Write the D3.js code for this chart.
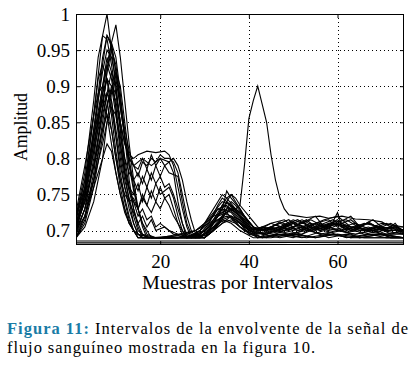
<!DOCTYPE html>
<html>
<head>
<meta charset="utf-8">
<script src="https://cdn.jsdelivr.net/npm/d3@7"></script>
<style>
  body { margin: 0; background: #fff; }
</style>
</head>
<body>
<script>
// axis ticks
const xTicks = [20, 40, 60];
const yTicks = [0.7, 0.75, 0.8, 0.85, 0.9, 0.95, 1];
const yTickLabels = ["0.7", "0.75", "0.8", "0.85", "0.9", "0.95", "1"];

// envelope intervals: [sample, amplitude]
const peakSeries = [
  [[1,0.70],[3,0.76],[5,0.86],[7,0.97],[8,1.0],[9,0.95],[10,0.90],[11,0.84],[12,0.78],[13,0.74],[14,0.71],[15,0.695],[18,0.69],[22,0.692],[26,0.69],[29,0.70],[31,0.715],[33,0.73],[35,0.735],[37,0.72],[39,0.705],[42,0.70],[45,0.705],[48,0.70],[51,0.708],[54,0.70],[58,0.705],[62,0.698],[66,0.70],[70,0.695],[75,0.695]],
  [[1,0.71],[3,0.74],[5,0.79],[7,0.87],[8,0.92],[9,0.96],[10,0.985],[11,0.94],[12,0.88],[13,0.82],[14,0.77],[15,0.73],[16,0.705],[17,0.69],[21,0.69],[25,0.695],[28,0.70],[30,0.71],[32,0.725],[34,0.74],[36,0.735],[38,0.72],[40,0.70],[44,0.695],[48,0.70],[52,0.695],[56,0.71],[60,0.70],[64,0.695],[68,0.70],[72,0.69],[75,0.69]],
  [[1,0.72],[3,0.78],[5,0.88],[6,0.94],[7,0.97],[8,0.965],[9,0.93],[10,0.89],[11,0.85],[12,0.82],[13,0.805],[14,0.80],[15,0.805],[17,0.81],[19,0.808],[21,0.81],[22,0.805],[23,0.79],[24,0.76],[25,0.73],[26,0.705],[27,0.69],[30,0.69],[32,0.70],[34,0.715],[36,0.72],[38,0.71],[40,0.70],[43,0.705],[46,0.70],[50,0.71],[53,0.705],[57,0.715],[60,0.72],[63,0.705],[67,0.70],[71,0.71],[75,0.70]],
  [[1,0.70],[3,0.75],[5,0.83],[7,0.93],[8,0.97],[9,0.96],[10,0.92],[11,0.87],[12,0.83],[13,0.80],[14,0.79],[16,0.80],[18,0.79],[20,0.80],[22,0.795],[23,0.78],[24,0.74],[25,0.71],[26,0.69],[29,0.69],[31,0.705],[33,0.725],[35,0.745],[36,0.75],[37,0.74],[39,0.72],[41,0.705],[44,0.70],[47,0.712],[50,0.705],[54,0.715],[57,0.705],[61,0.71],[65,0.70],[69,0.705],[72,0.695],[75,0.70]],
  [[1,0.69],[3,0.72],[5,0.78],[7,0.87],[8,0.92],[9,0.95],[10,0.93],[11,0.88],[12,0.83],[13,0.79],[14,0.77],[15,0.78],[16,0.765],[17,0.785],[18,0.77],[19,0.79],[20,0.775],[21,0.79],[22,0.78],[24,0.775],[25,0.74],[26,0.71],[27,0.695],[30,0.69],[32,0.71],[34,0.73],[35,0.755],[36,0.745],[38,0.73],[40,0.71],[42,0.70],[45,0.71],[48,0.715],[51,0.70],[55,0.71],[58,0.70],[60,0.725],[61,0.705],[64,0.71],[68,0.70],[72,0.705],[75,0.695]],
  [[1,0.705],[3,0.74],[5,0.81],[7,0.90],[8,0.94],[9,0.92],[10,0.87],[11,0.82],[12,0.78],[13,0.76],[14,0.75],[15,0.765],[16,0.74],[17,0.76],[18,0.745],[19,0.765],[20,0.75],[22,0.76],[23,0.745],[24,0.72],[25,0.70],[26,0.69],[29,0.695],[31,0.71],[33,0.735],[34,0.745],[35,0.74],[37,0.725],[39,0.71],[42,0.69],[46,0.70],[50,0.712],[54,0.70],[58,0.71],[62,0.715],[66,0.70],[70,0.71],[75,0.705]],
  [[1,0.715],[3,0.77],[5,0.86],[6,0.91],[7,0.93],[8,0.91],[9,0.86],[10,0.81],[11,0.77],[12,0.74],[13,0.715],[14,0.70],[15,0.69],[20,0.69],[24,0.695],[28,0.70],[30,0.71],[32,0.72],[34,0.725],[36,0.72],[38,0.705],[41,0.695],[45,0.70],[49,0.695],[53,0.70],[57,0.695],[61,0.70],[65,0.69],[70,0.695],[75,0.69]],
  [[1,0.695],[3,0.72],[5,0.77],[7,0.85],[8,0.89],[9,0.92],[10,0.90],[11,0.85],[12,0.80],[13,0.76],[14,0.74],[15,0.73],[16,0.745],[18,0.725],[19,0.74],[20,0.73],[21,0.745],[22,0.735],[23,0.72],[25,0.70],[26,0.69],[29,0.69],[31,0.70],[33,0.72],[34,0.735],[36,0.73],[38,0.715],[40,0.70],[43,0.705],[47,0.70],[50,0.71],[53,0.70],[56,0.705],[60,0.70],[64,0.705],[68,0.70],[72,0.705],[75,0.70]],
  [[1,0.70],[3,0.745],[5,0.82],[7,0.89],[8,0.91],[9,0.88],[10,0.83],[11,0.78],[12,0.745],[13,0.72],[14,0.70],[15,0.69],[19,0.69],[23,0.69],[27,0.692],[30,0.70],[32,0.715],[34,0.73],[36,0.725],[38,0.71],[40,0.695],[44,0.69],[48,0.70],[52,0.705],[56,0.695],[60,0.70],[64,0.695],[68,0.70],[72,0.69],[75,0.69]],
  [[1,0.69],[3,0.71],[5,0.76],[7,0.83],[8,0.87],[9,0.90],[10,0.89],[11,0.85],[12,0.82],[13,0.80],[14,0.79],[15,0.775],[16,0.795],[17,0.79],[18,0.80],[19,0.795],[20,0.805],[21,0.80],[22,0.80],[23,0.795],[24,0.78],[25,0.75],[26,0.72],[27,0.70],[28,0.69],[30,0.69],[32,0.705],[34,0.72],[36,0.73],[37,0.725],[39,0.715],[41,0.70],[44,0.695],[48,0.705],[52,0.715],[55,0.705],[59,0.715],[62,0.70],[66,0.71],[70,0.705],[73,0.70],[75,0.70]],
  [[1,0.71],[3,0.75],[5,0.81],[7,0.87],[8,0.89],[9,0.87],[10,0.83],[11,0.79],[12,0.76],[13,0.74],[14,0.725],[15,0.71],[16,0.72],[17,0.705],[18,0.715],[19,0.70],[21,0.705],[23,0.695],[26,0.69],[29,0.70],[31,0.72],[33,0.74],[34,0.75],[35,0.745],[37,0.73],[39,0.715],[41,0.70],[45,0.71],[49,0.70],[52,0.712],[56,0.70],[59,0.705],[63,0.715],[66,0.70],[70,0.705],[75,0.70]],
  [[1,0.72],[3,0.77],[5,0.83],[6,0.86],[7,0.88],[8,0.86],[9,0.82],[10,0.78],[11,0.75],[12,0.73],[13,0.71],[14,0.70],[16,0.69],[20,0.69],[24,0.69],[28,0.695],[30,0.705],[32,0.72],[33,0.73],[35,0.725],[37,0.71],[39,0.70],[42,0.69],[46,0.695],[50,0.69],[54,0.70],[58,0.69],[62,0.695],[66,0.69],[70,0.69],[75,0.69]],
  [[1,0.70],[3,0.73],[5,0.77],[7,0.82],[8,0.85],[9,0.87],[10,0.86],[11,0.83],[12,0.80],[13,0.78],[14,0.77],[15,0.755],[16,0.775],[17,0.76],[18,0.78],[19,0.765],[20,0.775],[21,0.76],[22,0.765],[23,0.75],[24,0.73],[25,0.71],[26,0.695],[28,0.69],[31,0.695],[33,0.71],[35,0.725],[36,0.735],[38,0.725],[40,0.71],[42,0.70],[45,0.705],[49,0.715],[52,0.70],[55,0.71],[58,0.715],[61,0.70],[64,0.705],[68,0.70],[72,0.71],[75,0.70]],
  [[1,0.70],[3,0.73],[5,0.80],[7,0.89],[8,0.93],[9,0.96],[10,0.94],[11,0.89],[12,0.83],[13,0.77],[14,0.73],[15,0.705],[16,0.69],[20,0.69],[24,0.69],[28,0.69],[30,0.695],[32,0.705],[34,0.715],[36,0.71],[38,0.70],[41,0.69],[45,0.69],[50,0.695],[55,0.69],[60,0.695],[65,0.69],[70,0.695],[75,0.69]],
  [[1,0.715],[3,0.76],[5,0.84],[7,0.92],[8,0.95],[9,0.94],[10,0.91],[11,0.87],[12,0.83],[13,0.79],[14,0.755],[15,0.73],[16,0.71],[17,0.70],[18,0.69],[22,0.69],[26,0.69],[29,0.695],[31,0.705],[33,0.72],[35,0.73],[37,0.73],[39,0.72],[41,0.705],[43,0.70],[46,0.708],[50,0.70],[54,0.71],[57,0.705],[60,0.715],[63,0.70],[67,0.71],[71,0.70],[75,0.70]],
  [[1,0.69],[3,0.705],[5,0.74],[7,0.80],[8,0.85],[9,0.89],[10,0.92],[11,0.90],[12,0.85],[13,0.80],[14,0.76],[15,0.73],[16,0.71],[17,0.695],[19,0.69],[23,0.69],[27,0.69],[30,0.695],[32,0.70],[34,0.71],[36,0.715],[38,0.71],[40,0.70],[43,0.695],[47,0.69],[51,0.695],[55,0.69],[59,0.695],[63,0.69],[68,0.69],[75,0.69]],
  [[1,0.725],[3,0.79],[5,0.86],[6,0.89],[7,0.90],[8,0.88],[9,0.84],[10,0.80],[11,0.77],[12,0.75],[13,0.74],[14,0.745],[15,0.73],[16,0.75],[17,0.735],[18,0.755],[19,0.74],[20,0.76],[21,0.745],[22,0.75],[23,0.73],[24,0.71],[25,0.695],[27,0.69],[30,0.69],[32,0.70],[34,0.715],[35,0.73],[36,0.74],[37,0.735],[39,0.72],[41,0.705],[43,0.695],[46,0.70],[50,0.705],[53,0.715],[56,0.70],[60,0.71],[64,0.70],[67,0.712],[70,0.70],[73,0.705],[75,0.70]],
  [[1,0.705],[3,0.74],[5,0.79],[7,0.84],[8,0.86],[9,0.84],[10,0.80],[11,0.76],[12,0.73],[13,0.71],[14,0.70],[15,0.69],[19,0.69],[23,0.69],[27,0.69],[30,0.69],[32,0.70],[34,0.71],[36,0.72],[38,0.715],[40,0.70],[43,0.69],[47,0.695],[52,0.69],[57,0.70],[62,0.69],[67,0.695],[71,0.69],[75,0.69]],
  [[1,0.70],[3,0.75],[5,0.84],[7,0.94],[8,0.97],[9,0.955],[10,0.92],[11,0.88],[12,0.84],[13,0.81],[14,0.79],[15,0.785],[16,0.80],[17,0.785],[18,0.805],[19,0.79],[20,0.80],[21,0.79],[22,0.795],[23,0.80],[24,0.79],[25,0.77],[26,0.74],[27,0.715],[28,0.695],[30,0.69],[32,0.70],[34,0.72],[35,0.74],[36,0.75],[37,0.745],[38,0.735],[40,0.72],[42,0.705],[44,0.70],[47,0.705],[50,0.715],[52,0.71],[55,0.72],[57,0.705],[60,0.71],[63,0.72],[65,0.705],[68,0.715],[71,0.70],[73,0.71],[75,0.695]],
  [[1,0.695],[3,0.73],[5,0.79],[7,0.86],[8,0.89],[9,0.88],[10,0.84],[11,0.80],[12,0.76],[13,0.73],[14,0.71],[15,0.695],[18,0.69],[24,0.69],[29,0.695],[31,0.705],[33,0.715],[35,0.72],[37,0.715],[39,0.705],[42,0.695],[46,0.70],[50,0.695],[54,0.705],[58,0.70],[62,0.705],[66,0.695],[70,0.70],[75,0.695]],
  [[1,0.71],[3,0.755],[5,0.82],[7,0.88],[8,0.91],[9,0.90],[10,0.86],[11,0.81],[12,0.77],[13,0.745],[14,0.72],[15,0.70],[17,0.69],[22,0.69],[27,0.69],[30,0.70],[32,0.71],[34,0.72],[36,0.73],[38,0.72],[40,0.705],[43,0.70],[47,0.71],[51,0.70],[55,0.705],[59,0.71],[63,0.70],[67,0.705],[71,0.695],[75,0.70]],
  [[1,0.72],[3,0.76],[5,0.83],[7,0.90],[8,0.93],[9,0.91],[10,0.87],[11,0.82],[12,0.78],[13,0.755],[14,0.74],[15,0.72],[16,0.73],[17,0.715],[18,0.72],[19,0.705],[20,0.71],[22,0.70],[24,0.695],[27,0.69],[30,0.695],[32,0.71],[34,0.73],[35,0.74],[36,0.735],[38,0.72],[40,0.705],[43,0.70],[47,0.705],[51,0.715],[55,0.70],[59,0.71],[63,0.705],[67,0.71],[71,0.70],[75,0.70]],
  [[1,0.69],[3,0.715],[5,0.77],[7,0.84],[8,0.875],[9,0.895],[10,0.88],[11,0.84],[12,0.79],[13,0.755],[14,0.73],[15,0.71],[16,0.695],[19,0.69],[25,0.69],[29,0.69],[31,0.70],[33,0.71],[35,0.715],[37,0.71],[39,0.70],[43,0.69],[48,0.695],[53,0.69],[58,0.695],[63,0.69],[68,0.695],[75,0.69]]
];

// the one interval with its peak near sample 42
const latePeakSeries = [
  [[1,0.70],[3,0.72],[5,0.76],[7,0.80],[8,0.82],[9,0.81],[10,0.78],[11,0.75],[12,0.725],[13,0.71],[14,0.70],[16,0.69],[20,0.69],[24,0.69],[28,0.70],[31,0.71],[33,0.72],[35,0.725],[37,0.73],[38,0.735],[39,0.79],[40,0.855],[41,0.88],[42,0.90],[43,0.875],[44,0.85],[45,0.805],[46,0.77],[47,0.745],[48,0.73],[49,0.722],[51,0.72],[53,0.718],[56,0.72],[58,0.717],[61,0.72],[64,0.716],[67,0.715],[70,0.712],[72,0.705],[75,0.705]]
];

// near-flat intervals along the bottom
const floorSeries = [
  [[1,0.6855],[20,0.6855],[40,0.6855],[60,0.6855],[75,0.6855]],
  [[1,0.683],[25,0.683],[50,0.6835],[75,0.683]]
];

const width = 415, height = 371;
const plotLeft = 76, plotRight = 404, plotTop = 14, plotBottom = 245;
const serif = '"Liberation Serif", "Times New Roman", serif';
const fontSize = "19px";

const svg = d3.select("body").append("svg")
  .attr("width", width)
  .attr("height", height);

svg.append("rect").attr("width", width).attr("height", height).attr("fill", "#fff");

const x = d3.scaleLinear().domain([1, 75]).range([plotLeft, plotRight]);
const y = d3.scaleLinear().domain([0.68, 1]).range([plotBottom, plotTop]);

svg.append("defs").append("clipPath").attr("id", "plot")
  .append("rect")
  .attr("x", plotLeft).attr("y", plotTop)
  .attr("width", plotRight - plotLeft).attr("height", plotBottom - plotTop);

// dotted grid
const grid = svg.append("g")
  .attr("stroke", "#000")
  .attr("stroke-width", 1)
  .attr("stroke-dasharray", "1,3");

grid.selectAll("line.vx")
  .data(xTicks)
  .join("line")
  .attr("x1", d => Math.round(x(d)) + 0.5).attr("x2", d => Math.round(x(d)) + 0.5)
  .attr("y1", plotTop).attr("y2", plotBottom);

grid.selectAll("line.hy")
  .data(yTicks.filter(d => d < 1))
  .join("line")
  .attr("y1", d => Math.round(y(d)) + 0.5).attr("y2", d => Math.round(y(d)) + 0.5)
  .attr("x1", plotLeft).attr("x2", plotRight);

// the intervals
const line = d3.line()
  .x(d => x(d[0]))
  .y(d => y(d[1]));

svg.append("g")
  .attr("clip-path", "url(#plot)")
  .selectAll("path")
  .data(peakSeries.concat(latePeakSeries, floorSeries))
  .join("path")
  .attr("d", line)
  .attr("fill", "none")
  .attr("stroke", "#000")
  .attr("stroke-width", 1.1);

// axes with inward ticks on all four sides
svg.append("g")
  .attr("transform", `translate(0,${plotBottom})`)
  .call(d3.axisBottom(x).tickValues(xTicks).tickSizeInner(-4).tickSizeOuter(0).tickPadding(10));

svg.append("g")
  .attr("transform", `translate(0,${plotTop})`)
  .call(d3.axisTop(x).tickValues(xTicks).tickSizeInner(-4).tickSizeOuter(0).tickFormat(""));

svg.append("g")
  .attr("transform", `translate(${plotLeft},0)`)
  .call(d3.axisLeft(y).tickValues(yTicks).tickSizeInner(-4).tickSizeOuter(0).tickPadding(6)
    .tickFormat((d, i) => yTickLabels[i]));

svg.append("g")
  .attr("transform", `translate(${plotRight},0)`)
  .call(d3.axisRight(y).tickValues(yTicks).tickSizeInner(-4).tickSizeOuter(0).tickFormat(""));

svg.selectAll(".domain").remove();
svg.selectAll(".tick line").attr("stroke", "#000");
svg.selectAll(".tick text")
  .style("font-family", serif)
  .style("font-size", fontSize)
  .attr("fill", "#000");

svg.append("rect")
  .attr("x", plotLeft + 0.5).attr("y", plotTop + 0.5)
  .attr("width", plotRight - plotLeft - 1).attr("height", plotBottom - plotTop - 1)
  .attr("fill", "none")
  .attr("stroke", "#000");

// axis titles
svg.append("text")
  .attr("x", 142)
  .attr("y", 289)
  .style("font-family", serif)
  .style("font-size", fontSize)
  .attr("textLength", 191)
  .attr("lengthAdjust", "spacingAndGlyphs")
  .text("Muestras por Intervalos");

svg.append("text")
  .attr("transform", "translate(27,161) rotate(-90)")
  .style("font-family", serif)
  .style("font-size", fontSize)
  .attr("textLength", 68)
  .attr("lengthAdjust", "spacingAndGlyphs")
  .text("Amplitud");

// caption
const cap1 = svg.append("text")
  .attr("x", 7).attr("y", 334)
  .style("font-family", serif)
  .style("font-size", "16.5px")
  .attr("textLength", 401)
  .attr("lengthAdjust", "spacing");
cap1.append("tspan")
  .attr("font-weight", "bold")
  .attr("fill", "#1a7ca6")
  .text("Figura 11:");
cap1.append("tspan").attr("fill", "#000").text(" Intervalos de la envolvente de la señal de");

svg.append("text")
  .attr("x", 7).attr("y", 353)
  .style("font-family", serif)
  .style("font-size", "16.5px")
  .attr("fill", "#000")
  .attr("textLength", 308)
  .attr("lengthAdjust", "spacing")
  .text("flujo sanguíneo mostrada en la figura 10.");
</script>
</body>
</html>
